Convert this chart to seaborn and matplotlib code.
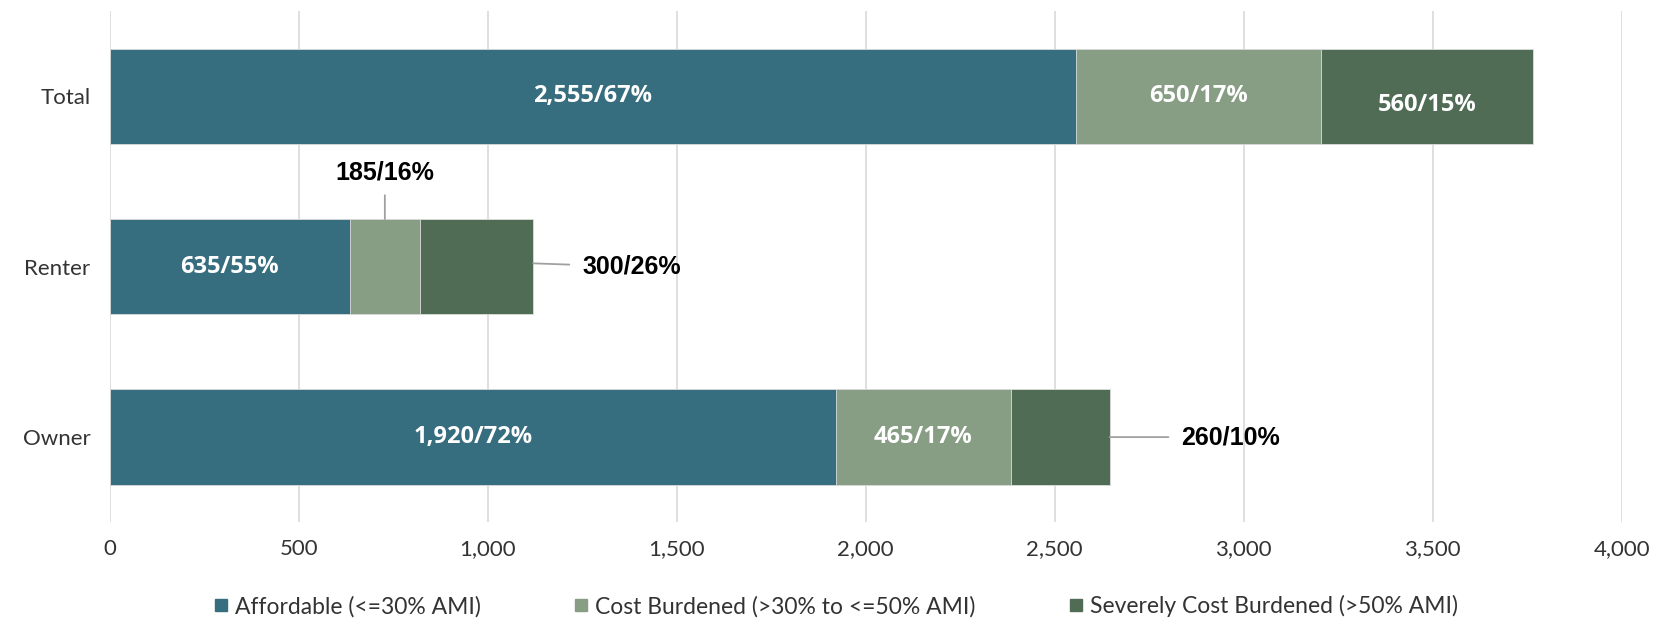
import pandas as pd
import matplotlib.pyplot as plt
import seaborn as sns
import numpy as np

# Data
categories = ["Total", "Renter", "Owner"]
series_names = ["Affordable (<=30% AMI)",
                "Cost Burdened (>30% to <=50% AMI)",
                "Severely Cost Burdened (>50% AMI)"]
affordable = [2555, 635, 1920]
cost_burdened = [650, 185, 465]
severe = [560, 300, 260]
affordable_pct = [67, 55, 72]
cost_burdened_pct = [17, 16, 17]
severe_pct = [15, 26, 10]

colors = ["#376E7F", "#879E84", "#506C54"]
values = [affordable, cost_burdened, severe]
pcts = [affordable_pct, cost_burdened_pct, severe_pct]

sns.set_style("white")
plt.rcParams['font.family'] = ['Lato', 'DejaVu Sans']

fig = plt.figure(figsize=(16.65, 6.24), dpi=100)
ax = fig.add_axes([0.066, 0.163, 0.908, 0.819])

# Stacked bars: draw cumulative totals from the back
cum = np.cumsum(np.array(values), axis=0)
for i in range(len(values) - 1, -1, -1):
    df = pd.DataFrame({"cat": categories, "val": cum[i]})
    sns.barplot(data=df, x="val", y="cat", orient="h", color=colors[i],
                width=0.56, edgecolor="#dddddd", linewidth=0.6,
                saturation=1, ax=ax, zorder=2)

callout = dict(ha="left", va="center", fontsize=18, fontweight="bold",
               family="Liberation Sans", color="black")
line = dict(arrowstyle="-", color="#a0a0a0", lw=1.3, shrinkB=0)

# Labels inside / outside bars
starts = np.vstack([np.zeros(len(categories)), cum[:-1]])
for i in range(len(values)):
    for j, cat in enumerate(categories):
        v = values[i][j]
        txt = f"{v:,}/{pcts[i][j]}%"
        mid = starts[i][j] + v / 2
        if cat == "Renter" and i == 1:
            ax.annotate(txt, xy=(mid, j - 0.28), xytext=(mid, j - 0.48),
                        **{**callout, "ha": "center", "va": "bottom"},
                        arrowprops=dict(line, shrinkA=5))
        elif cat == "Renter" and i == 2:
            end = cum[i][j]
            ax.annotate(txt, xy=(end, j - 0.02), xytext=(end + 130, j),
                        **callout, arrowprops=dict(line, shrinkA=7))
        elif cat == "Owner" and i == 2:
            end = cum[i][j]
            ax.annotate(txt, xy=(end, j), xytext=(end + 190, j),
                        **callout, arrowprops=dict(line, shrinkA=7))
        else:
            dy = 0.05 if (cat == "Total" and i == 2) else 0.0
            ax.text(mid, j + dy, txt, ha="center", va="center", color="white",
                    fontsize=17, fontweight="bold", family="Open Sans")

ax.set_xlim(0, 4000)
ax.set_ylim(2.5, -0.5)
ax.set_xticks(np.arange(0, 4001, 500))
ax.set_xticklabels([f"{t:,}" for t in range(0, 4001, 500)])
ax.xaxis.grid(True, color="#d9d9d9", linewidth=1.2, zorder=0)
ax.set_axisbelow(True)
ax.set_xlabel("")
ax.set_ylabel("")
for s in ax.spines.values():
    s.set_visible(False)
ax.tick_params(axis="both", labelsize=16, length=0, colors="#333333")
ax.tick_params(axis="x", pad=12)
ax.tick_params(axis="y", pad=14)

# Legend
handles = [plt.Line2D([0], [0], marker="s", linestyle="", markersize=9,
                      color=c) for c in colors]
fig.legend(handles, series_names, loc="lower center", ncol=3, frameon=False,
           fontsize=16.5, bbox_to_anchor=(0.5, -0.022), handletextpad=0.0,
           columnspacing=3.8, handlelength=1.2, labelcolor="#333333")

plt.savefig("out.png", dpi=100)
